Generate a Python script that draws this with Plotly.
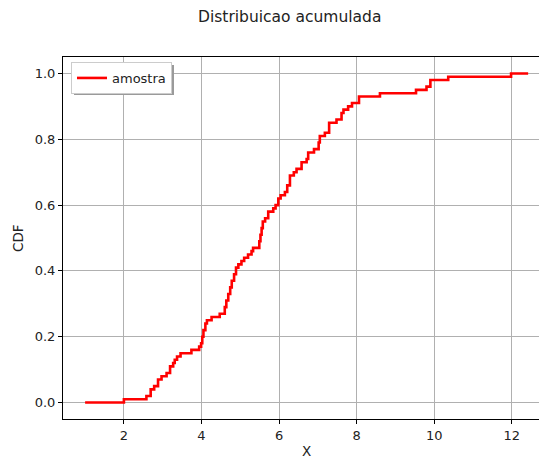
import plotly.graph_objects as go

# Empirical CDF of the sample: positions where the CDF steps and its level after each step
x_amostra = [1.00, 2.00, 2.58, 2.69, 2.78, 2.88, 2.97, 3.10, 3.19, 3.27, 3.31, 3.37,
             3.46, 3.74, 3.94, 3.99, 4.02, 4.05, 4.10, 4.14, 4.26, 4.47, 4.60, 4.64,
             4.69, 4.74, 4.78, 4.84, 4.89, 4.95, 5.03, 5.10, 5.20, 5.29, 5.33, 5.49,
             5.52, 5.55, 5.58, 5.64, 5.72, 5.85, 5.91, 5.98, 6.04, 6.15, 6.21, 6.28,
             6.38, 6.45, 6.58, 6.71, 6.75, 6.90, 7.02, 7.05, 7.18, 7.29, 7.48, 7.61,
             7.66, 7.78, 7.88, 8.06, 8.60, 9.53, 9.80, 9.90, 10.36, 11.98, 12.42]
cdf = [0.00, 0.01, 0.02, 0.04, 0.05, 0.07, 0.08, 0.09, 0.11, 0.12, 0.13, 0.14,
       0.15, 0.16, 0.17, 0.18, 0.20, 0.22, 0.24, 0.25, 0.26, 0.27, 0.29, 0.31,
       0.33, 0.35, 0.37, 0.39, 0.41, 0.42, 0.43, 0.44, 0.45, 0.46, 0.47, 0.49,
       0.51, 0.53, 0.55, 0.56, 0.58, 0.59, 0.60, 0.62, 0.63, 0.64, 0.66, 0.69,
       0.70, 0.71, 0.73, 0.74, 0.76, 0.77, 0.79, 0.81, 0.82, 0.85, 0.86, 0.88,
       0.89, 0.90, 0.91, 0.93, 0.94, 0.95, 0.96, 0.98, 0.99, 1.00, 1.00]

x_ticks = [2, 4, 6, 8, 10, 12]
y_ticks = [0.0, 0.2, 0.4, 0.6, 0.8, 1.0]

FONT = "DejaVu Sans"

# plot area in pixels (left edge, width, bottom edge, height)
L, W, B, H = 63, 476, 419.5, 362.5


def px(x):
    return (x - L) / W


def py(y):
    return (B - y) / H


fig = go.Figure()
fig.add_trace(go.Scatter(
    x=x_amostra, y=cdf, mode="lines", name="amostra",
    line=dict(color="#ff0000", width=2.6, shape="hv"),
))

axis_common = dict(
    showgrid=True, gridcolor="#b0b0b0", gridwidth=0.9,
    showline=True, linecolor="black", linewidth=1.1,
    ticks="outside", ticklen=4, tickcolor="black", tickwidth=1,
    tickfont=dict(family=FONT, size=13, color="#222"),
    zeroline=False,
)

fig.update_layout(
    width=539, height=460,
    margin=dict(l=L, r=0, t=57, b=460 - B),
    paper_bgcolor="white", plot_bgcolor="white",
    font=dict(family=FONT, color="#222"),
    showlegend=True,
    legend=dict(
        x=px(71), y=py(62), xanchor="left", yanchor="top",
        bgcolor="white", bordercolor="#cccccc", borderwidth=1,
        font=dict(family=FONT, size=13, color="#222"),
        itemwidth=30,
    ),
    xaxis=dict(range=[0.43, 12.70], tickvals=x_ticks, mirror=True, **axis_common),
    yaxis=dict(range=[-0.05, 1.05], tickvals=y_ticks, tickformat=".1f", **axis_common),
    shapes=[
        # drop shadow behind the legend box
        dict(type="rect", xref="paper", yref="paper",
             x0=px(74), x1=px(174), y0=py(95), y1=py(65),
             fillcolor="#9a9a9a", line=dict(width=0), layer="above"),
    ],
    annotations=[
        dict(text="Distribuicao acumulada", xref="paper", yref="paper",
             x=px(289.5), y=1.0, yshift=40, xanchor="center", yanchor="middle",
             showarrow=False, font=dict(family=FONT, size=15.5, color="#222")),
        dict(text="X", xref="paper", yref="paper",
             x=px(306), y=0, yshift=-32, xanchor="center", yanchor="middle",
             showarrow=False, font=dict(family=FONT, size=13.5, color="#222")),
        dict(text="CDF", xref="paper", yref="paper", textangle=-90,
             x=0, xshift=-45, y=0.5, xanchor="center", yanchor="middle",
             showarrow=False, font=dict(family=FONT, size=13.5, color="#222")),
    ],
)

fig.write_html("out.html")
